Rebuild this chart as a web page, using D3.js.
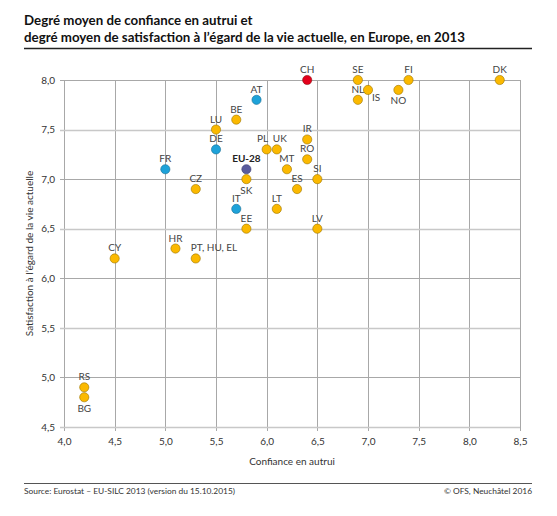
<!DOCTYPE html>
<html>
<head>
<meta charset="utf-8">
<script src="https://cdn.jsdelivr.net/npm/d3@7"></script>
<style>
  body { margin: 0; background: #fff; }
  text { font-family: Lato, "Noto Sans", sans-serif; }
</style>
</head>
<body>
<div id="chart"></div>
<script>
// Data
const countries = ["CH", "SE", "FI", "DK", "AT", "NL", "IS", "NO", "BE", "LU", "IR", "DE", "PL", "UK", "RO",
  "FR", "EU-28", "MT", "SK", "SI", "CZ", "ES", "IT", "LT", "EE", "LV", "HR", "CY", "PT, HU, EL", "RS", "BG"];
const trust = [6.4, 6.9, 7.4, 8.3, 5.9, 6.9, 7.0, 7.3, 5.7, 5.5, 6.4, 5.5, 6.0, 6.1, 6.4,
  5.0, 5.8, 6.2, 5.8, 6.5, 5.3, 6.3, 5.7, 6.1, 5.8, 6.5, 5.1, 4.5, 5.3, 4.2, 4.2];
const satisfaction = [8.0, 8.0, 8.0, 8.0, 7.8, 7.8, 7.9, 7.9, 7.6, 7.5, 7.4, 7.3, 7.3, 7.3, 7.2,
  7.1, 7.1, 7.1, 7.0, 7.0, 6.9, 6.9, 6.7, 6.7, 6.5, 6.5, 6.3, 6.2, 6.2, 4.9, 4.8];
// "ch" = Switzerland, "nb" = neighbouring countries, "eu" = EU average, "other" = rest
const groups = ["ch", "other", "other", "other", "nb", "other", "other", "other", "other", "other", "other", "nb", "other", "other", "other",
  "nb", "eu", "other", "other", "other", "other", "other", "nb", "other", "other", "other", "other", "other", "other", "other", "other"];

const xTicks = [4.0, 4.5, 5.0, 5.5, 6.0, 6.5, 7.0, 7.5, 8.0, 8.5];
const yTicks = [4.5, 5.0, 5.5, 6.0, 6.5, 7.0, 7.5, 8.0];

const title = ["Degré moyen de confiance en autrui et",
  "degré moyen de satisfaction à l’égard de la vie actuelle, en Europe, en 2013"];
const xTitle = "Confiance en autrui";
const yTitle = "Satisfaction à l’égard de la vie actuelle";
const source = "Source: Eurostat – EU-SILC 2013 (version du 15.10.2015)";
const copyright = "© OFS, Neuchâtel 2016";

const COLORS = { ch: "#e3001b", nb: "#1ea2d9", eu: "#5a5c9e", other: "#fbb900" };
const STROKES = { ch: "#8a1010", nb: "#1a6f94", eu: "#3a3c70", other: "#9a7400" };

// label placement, default is centred above the point
const labelBelow = ["SK", "NO", "BG"];
const labelShift = { PL: -4, UK: 3 };

const width = 557;
const height = 516;
const margin = { top: 80, right: 37, bottom: 89, left: 64 };

const svg = d3.select("#chart").append("svg")
  .attr("width", width)
  .attr("height", height);

// Title block
svg.append("g").selectAll("text")
  .data(title)
  .join("text")
  .attr("x", 24)
  .attr("y", (d, i) => 25 + i * 17)
  .attr("font-size", 13.3)
  .attr("font-weight", "bold")
  .attr("fill", "#111")
  .text((d) => d);

svg.append("line")
  .attr("x1", 24).attr("x2", 532)
  .attr("y1", 48.5).attr("y2", 48.5)
  .attr("stroke", "#222").attr("stroke-width", 1.3);

const x = d3.scaleLinear().domain([4, 8.5]).range([margin.left, width - margin.right]);
const y = d3.scaleLinear().domain([4.5, 8]).range([height - margin.bottom, margin.top]);

const fmt = (d) => d3.format(".1f")(d).replace(".", ",");

// Grid
svg.append("g").selectAll("line")
  .data(xTicks)
  .join("line")
  .attr("x1", (d) => Math.round(x(d)) + 0.5)
  .attr("x2", (d) => Math.round(x(d)) + 0.5)
  .attr("y1", y(8))
  .attr("y2", y(4.5) + 4)
  .attr("stroke", "#a8a8a8");

svg.append("g").selectAll("line")
  .data(yTicks)
  .join("line")
  .attr("x1", x(4) - 4)
  .attr("x2", x(8.5))
  .attr("y1", (d) => Math.round(y(d)) + 0.5)
  .attr("y2", (d) => Math.round(y(d)) + 0.5)
  .attr("stroke", (d) => (d % 1 === 0 ? "#a8a8a8" : "#c8c8c8"))
  .attr("stroke-width", (d) => (d % 1 === 0 ? 1 : 1.5));

// Axes labels
const xAxis = d3.axisBottom(x).tickValues(xTicks).tickFormat(fmt).tickSize(0).tickPadding(11);
const yAxis = d3.axisLeft(y).tickValues(yTicks).tickFormat(fmt).tickSize(0).tickPadding(9);

svg.append("g")
  .attr("transform", `translate(0,${y(4.5)})`)
  .call(xAxis)
  .call((g) => g.select(".domain").remove())
  .selectAll("text")
  .attr("font-family", "Lato, sans-serif")
  .attr("font-size", 10)
  .attr("fill", "#333");

svg.append("g")
  .attr("transform", `translate(${x(4)},0)`)
  .call(yAxis)
  .call((g) => g.select(".domain").remove())
  .selectAll("text")
  .attr("font-family", "Lato, sans-serif")
  .attr("font-size", 10)
  .attr("fill", "#333");

svg.append("text")
  .attr("x", (x(4) + x(8.5)) / 2)
  .attr("y", 465)
  .attr("text-anchor", "middle")
  .attr("font-size", 10)
  .attr("fill", "#333")
  .text(xTitle);

svg.append("text")
  .attr("transform", `translate(33,${(y(4.5) + y(8)) / 2}) rotate(-90)`)
  .attr("text-anchor", "middle")
  .attr("font-size", 10)
  .attr("fill", "#333")
  .text(yTitle);

// Points
const points = countries.map((c, i) => ({
  name: c,
  trust: trust[i],
  satisfaction: satisfaction[i],
  group: groups[i],
}));

const pts = svg.append("g");

pts.selectAll("circle")
  .data(points)
  .join("circle")
  .attr("cx", (d) => x(d.trust))
  .attr("cy", (d) => y(d.satisfaction))
  .attr("r", 4.6)
  .attr("fill", (d) => COLORS[d.group])
  .attr("stroke", (d) => STROKES[d.group])
  .attr("stroke-width", 0.6);

pts.selectAll("text")
  .data(points)
  .join("text")
  .attr("x", (d) => {
    if (d.name === "IS") return x(d.trust) + 4;
    if (d.name === "PT, HU, EL") return x(d.trust) - 5;
    return x(d.trust) + (labelShift[d.name] || 0);
  })
  .attr("y", (d) => {
    if (d.name === "IS") return y(d.satisfaction) + 11;
    if (labelBelow.includes(d.name)) return y(d.satisfaction) + 14.5;
    return y(d.satisfaction) - 7;
  })
  .attr("text-anchor", (d) => (d.name === "IS" || d.name === "PT, HU, EL" ? "start" : "middle"))
  .attr("font-size", 10)
  .attr("font-weight", (d) => (d.group === "eu" ? "bold" : "normal"))
  .attr("fill", (d) => (d.group === "eu" ? "#222" : "#444"))
  .text((d) => d.name);

// Footer
svg.append("line")
  .attr("x1", 24).attr("x2", 532)
  .attr("y1", 483.5).attr("y2", 483.5)
  .attr("stroke", "#555").attr("stroke-width", 1);

svg.append("text")
  .attr("x", 24).attr("y", 494)
  .attr("font-size", 8.4)
  .attr("fill", "#333")
  .text(source);

svg.append("text")
  .attr("x", 532).attr("y", 494)
  .attr("text-anchor", "end")
  .attr("font-size", 8.4)
  .attr("fill", "#333")
  .text(copyright);
</script>
</body>
</html>
